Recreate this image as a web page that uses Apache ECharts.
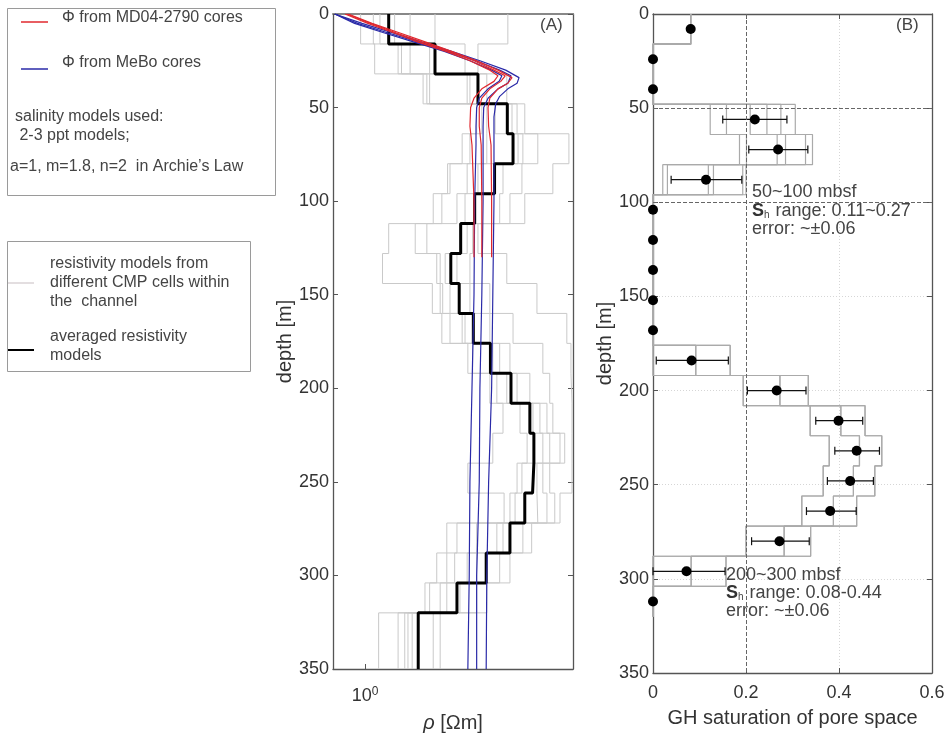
<!DOCTYPE html>
<html>
<head>
<meta charset="utf-8">
<script src="https://cdn.jsdelivr.net/npm/echarts/dist/echarts.min.js"></script>
<style>
  html, body { margin: 0; padding: 0; background: #fff; }
  #chart { width: 948px; height: 738px; }
</style>
</head>
<body>
<div id="chart"></div>
<script>
// ---- layer boundaries (m below seafloor) ----
const depthEdges = [0,16,32,48,64,80,96,112,128,144,160,176,192,208,224,240,256,272,288,304,320,350];

// ---- (A) resistivity [Ohm m] ----
// averaged resistivity model, one value per layer
const rhoAvg = [1.18,1.63,2.20,2.70,2.81,2.47,2.15,1.95,1.82,1.93,2.13,2.40,2.77,3.16,3.25,3.22,3.05,2.75,2.33,1.90,1.45];
// resistivity of the individual CMP cells, per layer (sorted)
const rhoCells = [
  [0.97,1.06,1.11,1.23,1.37,1.63,2.71],
  [1.07,1.26,1.29,1.37,1.57,2.01,2.20],
  [1.50,1.54,1.57,2.04,2.08,2.34,2.69],
  [2.18,2.26,2.34,2.48,2.79,2.89,3.05],
  [1.97,2.08,2.34,2.91,3.01,3.34,4.15],
  [1.78,1.81,2.04,2.20,2.62,2.99,3.71],
  [1.61,1.71,1.90,2.01,2.56,2.75,3.05],
  [1.18,1.42,1.54,1.94,2.04,2.12,2.20],
  [1.13,1.65,1.69,1.75,1.90,2.08,2.69],
  [1.60,1.69,1.72,1.81,2.08,2.39,3.32],
  [1.71,1.81,1.97,2.01,2.39,2.81,4.09],
  [2.05,2.12,2.44,2.56,2.75,3.46,4.21],
  [2.39,2.51,2.69,2.89,3.16,3.63,4.24],
  [2.62,2.95,3.23,3.39,3.56,3.71,4.24],
  [2.44,3.10,3.46,3.63,3.90,4.03,4.24],
  [2.05,2.89,2.99,3.32,3.46,3.63,4.24],
  [2.64,2.75,2.85,3.34,3.56,3.76,3.90],
  [1.77,1.90,2.18,2.51,2.62,3.01,3.20],
  [1.65,1.77,1.87,2.04,2.18,2.56,2.75],
  [1.52,1.57,1.69,1.77,1.94,2.18,2.34],
  [1.10,1.26,1.32,1.35,1.39,1.61,1.69]
];

// Archie-law resistivity from MeBo porosity (blue) and MD04-2790 porosity (red)
const meboDepth1 = [0,5,10,15,20,25,30,34,37,40,44,48,55,70,100,150,200,250,300,350];
const meboRho1   = [0.81,0.98,1.21,1.49,1.83,2.23,2.67,2.93,2.89,2.71,2.56,2.49,2.46,2.46,2.46,2.44,2.42,2.37,2.34,2.33];
const meboDepth2 = [0,5,10,15,20,25,30,33,37,40,45,50,60,70,100,150,200,250,300,350];
const meboRho2   = [0.81,0.95,1.17,1.45,1.78,2.17,2.56,2.77,2.71,2.53,2.36,2.29,2.28,2.28,2.28,2.26,2.23,2.22,2.18,2.18];
const meboDepth3 = [0,5,10,15,20,25,30,33,36,40,45,50,60,70,100,150,200,250,300,350];
const meboRho3   = [0.81,0.93,1.14,1.41,1.74,2.08,2.42,2.60,2.55,2.36,2.22,2.18,2.17,2.17,2.15,2.14,2.11,2.08,2.07,2.05];

const mdDepth12 = [0,5,10,15,20,25,30,33,36,40,45,50,60,70,100,130];
const mdRho1    = [0.87,1.02,1.22,1.45,1.76,2.08,2.39,2.53,2.46,2.26,2.14,2.09,2.08,2.11,2.14,2.14];
const mdRho2    = [0.88,1.04,1.24,1.49,1.80,2.14,2.46,2.66,2.58,2.39,2.26,2.22,2.22,2.25,2.26,2.26];
const mdDepth3  = [0,5,10,15,20,25,30,34,37,40,45,50,60,70,100,130];
const mdRho3    = [0.89,1.05,1.27,1.53,1.83,2.18,2.53,2.79,2.71,2.53,2.39,2.36,2.37,2.41,2.42,2.42];

// ---- (B) gas-hydrate saturation ----
const shDepth   = [8,24,40,56,72,88,104,120,136,152,168,184,200,216,232,248,264,280,296,312];
const shMean    = [0.081,0,0,0.219,0.269,0.114,0,0,0,0,0,0.083,0.266,0.399,0.438,0.424,0.381,0.272,0.072,0];
const shErrLow  = [null,null,null,0.150,0.206,0.039,null,null,null,null,null,0.007,0.203,0.350,0.391,0.375,0.330,0.212,0.0,null];
const shErrHigh = [null,null,null,0.288,0.333,0.191,null,null,null,null,null,0.162,0.329,0.451,0.487,0.474,0.437,0.336,0.155,null];
// saturation from the individual CMP-cell models, per layer (sorted)
const shCells = [
  [0.081,0.081,0.081,0.081,0.081,0.081],
  [0,0,0,0,0,0],
  [0,0,0,0,0,0],
  [0.123,0.158,0.209,0.245,0.275,0.306],
  [0.186,0.201,0.267,0.285,0.328,0.343],
  [0.021,0.031,0.119,0.130,0.193,0.200],
  [0,0,0,0,0,0],
  [0,0,0,0,0,0],
  [0,0,0,0,0,0],
  [0,0,0,0,0,0],
  [0,0,0,0,0,0],
  [0,0,0.092,0.092,0.166,0.166],
  [0.194,0.194,0.273,0.273,0.334,0.334],
  [0.338,0.338,0.404,0.404,0.456,0.456],
  [0.379,0.379,0.444,0.444,0.492,0.492],
  [0.366,0.366,0.431,0.431,0.477,0.477],
  [0.320,0.320,0.388,0.388,0.438,0.438],
  [0.200,0.200,0.282,0.282,0.339,0.339],
  [0,0,0.082,0.082,0.157,0.157],
  [0,0,0,0,0,0]
];

const rhoTicks = [1];
const shTicks = [0, 0.2, 0.4, 0.6];

// ---- helpers ----
const FONT = '"Liberation Sans", Arial, Helvetica, sans-serif';

// layered model -> vertical step curve [[value, depth], ...]
function stepCurve(values, edges) {
  const pts = [];
  values.forEach((v, k) => { pts.push([v, edges[k]]); pts.push([v, edges[k + 1]]); });
  return pts;
}
function cellCurves(cells, edges) {
  const n = cells[0].length, out = [];
  for (let j = 0; j < n; j++) out.push(stepCurve(cells.map(c => c[j]), edges));
  return out;
}
const zip = (xs, ds) => xs.map((x, i) => [x, ds[i]]);

const series = [];
// grey CMP-cell models (A)
cellCurves(rhoCells, depthEdges).forEach(c => series.push({
  type: 'line', xAxisIndex: 0, yAxisIndex: 0, data: c, symbol: 'none', silent: true,
  lineStyle: { color: '#c9c9c9', width: 1 }, z: 1
}));
// averaged model (A)
series.push({
  type: 'line', xAxisIndex: 0, yAxisIndex: 0, data: stepCurve(rhoAvg, depthEdges), symbol: 'none',
  lineStyle: { color: '#000', width: 3 }, z: 3
});
// porosity-derived resistivity curves
[[meboRho1, meboDepth1], [meboRho2, meboDepth2], [meboRho3, meboDepth3]].forEach(([r, d]) => series.push({
  type: 'line', xAxisIndex: 0, yAxisIndex: 0, data: zip(r, d), symbol: 'none',
  lineStyle: { color: '#2a2aa8', width: 1.2 }, z: 4
}));
[[mdRho1, mdDepth12], [mdRho2, mdDepth12], [mdRho3, mdDepth3]].forEach(([r, d]) => series.push({
  type: 'line', xAxisIndex: 0, yAxisIndex: 0, data: zip(r, d), symbol: 'none',
  lineStyle: { color: '#e0282e', width: 1.2 }, z: 5
}));

// grey CMP-cell saturations (B)
cellCurves(shCells, depthEdges.slice(0, shCells.length + 1)).forEach(c => series.push({
  type: 'line', xAxisIndex: 2, yAxisIndex: 2, data: c, symbol: 'none', silent: true,
  lineStyle: { color: '#aaaaaa', width: 1.2 }, z: 2
}));
// error bars (B)
const errData = [];
shDepth.forEach((d, i) => { if (shErrLow[i] !== null) errData.push([shErrLow[i], shErrHigh[i], d]); });
series.push({
  type: 'custom', xAxisIndex: 2, yAxisIndex: 2, data: errData, z: 4,
  encode: { x: [0, 1], y: 2 },
  renderItem: function (params, api) {
    const lo = api.coord([api.value(0), api.value(2)]);
    const hi = api.coord([api.value(1), api.value(2)]);
    const cap = 4, st = { stroke: '#111', lineWidth: 1.2 };
    return { type: 'group', children: [
      { type: 'line', shape: { x1: lo[0], y1: lo[1], x2: hi[0], y2: hi[1] }, style: st },
      { type: 'line', shape: { x1: lo[0], y1: lo[1] - cap, x2: lo[0], y2: lo[1] + cap }, style: st },
      { type: 'line', shape: { x1: hi[0], y1: hi[1] - cap, x2: hi[0], y2: hi[1] + cap }, style: st }
    ]};
  }
});
// mean saturation points (B) + reference lines
series.push({
  type: 'scatter', xAxisIndex: 2, yAxisIndex: 2, data: zip(shMean, shDepth),
  symbol: 'circle', symbolSize: 10, itemStyle: { color: '#000', opacity: 1 }, z: 6,
  markLine: {
    silent: true, symbol: ['none', 'none'], label: { show: false },
    lineStyle: { color: '#666', type: [4, 2], width: 1 },
    data: [{ yAxis: 50 }, { yAxis: 100 }, { xAxis: 0.2 }]
  }
});

const axisLineStyle = { color: '#555', width: 1.3 };
const depthAxis = (grid, pos, labels, extra) => Object.assign({
  gridIndex: grid, type: 'value', inverse: true, min: 0, max: 350, interval: 50, position: pos,
  axisLine: { show: true, onZero: false, lineStyle: axisLineStyle },
  axisTick: { show: true, inside: true, length: 5, lineStyle: { color: '#555' } },
  axisLabel: { show: labels, fontSize: 18, color: '#333', margin: 4, fontFamily: FONT },
  splitLine: { show: false }
}, extra || {});

const option = {
  animation: false,
  textStyle: { fontFamily: FONT },
  grid: [
    { left: 333, top: 14, width: 240, height: 659 },
    { left: 653, top: 14, width: 279, height: 659 }
  ],
  xAxis: [
    {
      gridIndex: 0, type: 'log', logBase: 10, min: 0.8, max: 4.27, position: 'bottom',
      axisLine: { show: true, onZero: false, lineStyle: axisLineStyle },
      axisTick: { show: true, inside: true, length: 5, lineStyle: { color: '#555' } },
      minorTick: { show: false }, splitLine: { show: false },
      axisLabel: {
        margin: 17, color: '#333',
        formatter: v => rhoTicks.some(t => Math.abs(v - t) < 1e-6) ? '{b|10}{s|0}' : '',
        rich: {
          b: { fontSize: 18, color: '#333', fontFamily: FONT },
          s: { fontSize: 12, color: '#333', fontFamily: FONT, verticalAlign: 'top', padding: [0, 0, 8, 0] }
        }
      },
      name: '{i|ρ} [Ωm]', nameLocation: 'middle', nameGap: 44, nameMoveOverlap: false,
      nameTextStyle: {
        fontSize: 20, color: '#333', fontFamily: FONT,
        rich: { i: { fontStyle: 'italic', fontSize: 20, color: '#333', fontFamily: FONT } }
      }
    },
    {
      gridIndex: 0, type: 'log', logBase: 10, min: 0.8, max: 4.27, position: 'top',
      axisLine: { show: true, onZero: false, lineStyle: { color: '#888', width: 2 } },
      axisTick: { show: false }, axisLabel: { show: false }, splitLine: { show: false }, minorTick: { show: false }
    },
    {
      gridIndex: 1, type: 'value', min: 0, max: 0.6, interval: 0.2, position: 'bottom',
      axisLine: { show: true, onZero: false, lineStyle: axisLineStyle },
      axisTick: { show: true, inside: true, length: 5, lineStyle: { color: '#555' } },
      axisLabel: { fontSize: 18, color: '#333', margin: 11, formatter: v => v === 0 ? '0' : v.toFixed(1) },
      splitLine: { show: true, lineStyle: { color: '#d6d6d6', type: [1, 2], width: 1 } },
      name: 'GH saturation of pore space', nameLocation: 'middle', nameGap: 35, nameMoveOverlap: false,
      nameTextStyle: { fontSize: 20, color: '#333', fontFamily: FONT }
    },
    {
      gridIndex: 1, type: 'value', min: 0, max: 0.6, interval: 0.2, position: 'top',
      axisLine: { show: true, onZero: false, lineStyle: axisLineStyle },
      axisTick: { show: true, inside: true, length: 5, lineStyle: { color: '#555' } },
      axisLabel: { show: false }, splitLine: { show: false }
    }
  ],
  yAxis: [
    depthAxis(0, 'left', true, {
      name: 'depth [m]', nameLocation: 'middle', nameGap: 38, nameMoveOverlap: false,
      nameTextStyle: { fontSize: 20, color: '#333', fontFamily: FONT }
    }),
    depthAxis(0, 'right', false),
    depthAxis(1, 'left', true, {
      name: 'depth [m]', nameLocation: 'middle', nameGap: 38, nameMoveOverlap: false,
      nameTextStyle: { fontSize: 20, color: '#333', fontFamily: FONT },
      splitLine: { show: true, lineStyle: { color: '#d6d6d6', type: [1, 2], width: 1 } }
    }),
    depthAxis(1, 'right', false)
  ],
  series: series,
  graphic: [
    // legend box 1
    { type: 'rect', shape: { x: 7.5, y: 8.5, width: 268, height: 187 }, style: { fill: '#fff', stroke: '#9a9a9a', lineWidth: 1 }, z: 10 },
    { type: 'line', shape: { x1: 21, y1: 22, x2: 48, y2: 22 }, style: { stroke: '#e0282e', lineWidth: 1.5 }, z: 11 },
    { type: 'text', x: 62, y: 18, style: { text: 'Φ from MD04-2790 cores', font: '16px ' + FONT, fill: '#444', verticalAlign: 'middle' }, z: 11 },
    { type: 'line', shape: { x1: 21, y1: 69, x2: 48, y2: 69 }, style: { stroke: '#2a2aa8', lineWidth: 1.5 }, z: 11 },
    { type: 'text', x: 62, y: 63, style: { text: 'Φ from MeBo cores', font: '16px ' + FONT, fill: '#444', verticalAlign: 'middle' }, z: 11 },
    { type: 'text', x: 15, y: 117, style: { text: 'salinity models used:', font: '16px ' + FONT, fill: '#444', verticalAlign: 'middle' }, z: 11 },
    { type: 'text', x: 15, y: 136, style: { text: ' 2-3 ppt models;', font: '16px ' + FONT, fill: '#444', verticalAlign: 'middle' }, z: 11 },
    { type: 'text', x: 10, y: 167, style: { text: 'a=1, m=1.8, n=2  in Archie\u2019s Law', font: '16px ' + FONT, fill: '#444', verticalAlign: 'middle' }, z: 11 },
    // legend box 2
    { type: 'rect', shape: { x: 7.5, y: 241.5, width: 243, height: 130 }, style: { fill: '#fff', stroke: '#9a9a9a', lineWidth: 1 }, z: 10 },
    { type: 'line', shape: { x1: 8, y1: 283, x2: 34, y2: 283 }, style: { stroke: '#d0c8cc', lineWidth: 1.2 }, z: 11 },
    { type: 'text', x: 50, y: 264, style: { text: 'resistivity models from', font: '16px ' + FONT, fill: '#444', verticalAlign: 'middle' }, z: 11 },
    { type: 'text', x: 50, y: 283, style: { text: 'different CMP cells within', font: '16px ' + FONT, fill: '#444', verticalAlign: 'middle' }, z: 11 },
    { type: 'text', x: 50, y: 302, style: { text: 'the  channel', font: '16px ' + FONT, fill: '#444', verticalAlign: 'middle' }, z: 11 },
    { type: 'line', shape: { x1: 8, y1: 350, x2: 34, y2: 350 }, style: { stroke: '#000', lineWidth: 2 }, z: 11 },
    { type: 'text', x: 50, y: 337, style: { text: 'averaged resistivity', font: '16px ' + FONT, fill: '#444', verticalAlign: 'middle' }, z: 11 },
    { type: 'text', x: 50, y: 356, style: { text: 'models', font: '16px ' + FONT, fill: '#444', verticalAlign: 'middle' }, z: 11 },
    // panel tags
    { type: 'text', x: 540, y: 25, style: { text: '(A)', font: '17px ' + FONT, fill: '#444', verticalAlign: 'middle' }, z: 11 },
    { type: 'text', x: 896, y: 25, style: { text: '(B)', font: '17px ' + FONT, fill: '#444', verticalAlign: 'middle' }, z: 11 },
    // saturation summaries
    { type: 'text', x: 752, y: 192, style: { text: '50~100 mbsf', font: '18px ' + FONT, fill: '#444', verticalAlign: 'middle' }, z: 11 },
    { type: 'text', x: 752, y: 211, style: {
        text: '{b|S}{sub|h} range: 0.11~0.27', font: '18px ' + FONT, fill: '#444', verticalAlign: 'middle',
        rich: { b: { fontWeight: 'bold', fontSize: 18, fontFamily: FONT, fill: '#333' }, sub: { fontSize: 10, fontFamily: FONT, verticalAlign: 'bottom', padding: [6, 1, 0, 0] } }
      }, z: 11 },
    { type: 'text', x: 752, y: 229, style: { text: 'error: ~±0.06', font: '18px ' + FONT, fill: '#444', verticalAlign: 'middle' }, z: 11 },
    { type: 'text', x: 726, y: 575, style: { text: '200~300 mbsf', font: '18px ' + FONT, fill: '#444', verticalAlign: 'middle' }, z: 11 },
    { type: 'text', x: 726, y: 593, style: {
        text: '{b|S}{sub|h} range: 0.08-0.44', font: '18px ' + FONT, fill: '#444', verticalAlign: 'middle',
        rich: { b: { fontWeight: 'bold', fontSize: 18, fontFamily: FONT, fill: '#333' }, sub: { fontSize: 10, fontFamily: FONT, verticalAlign: 'bottom', padding: [6, 1, 0, 0] } }
      }, z: 11 },
    { type: 'text', x: 726, y: 611, style: { text: 'error: ~±0.06', font: '18px ' + FONT, fill: '#444', verticalAlign: 'middle' }, z: 11 }
  ]
};

const chart = echarts.init(document.getElementById('chart'), null, { renderer: 'canvas' });
chart.setOption(option);
</script>
</body>
</html>
